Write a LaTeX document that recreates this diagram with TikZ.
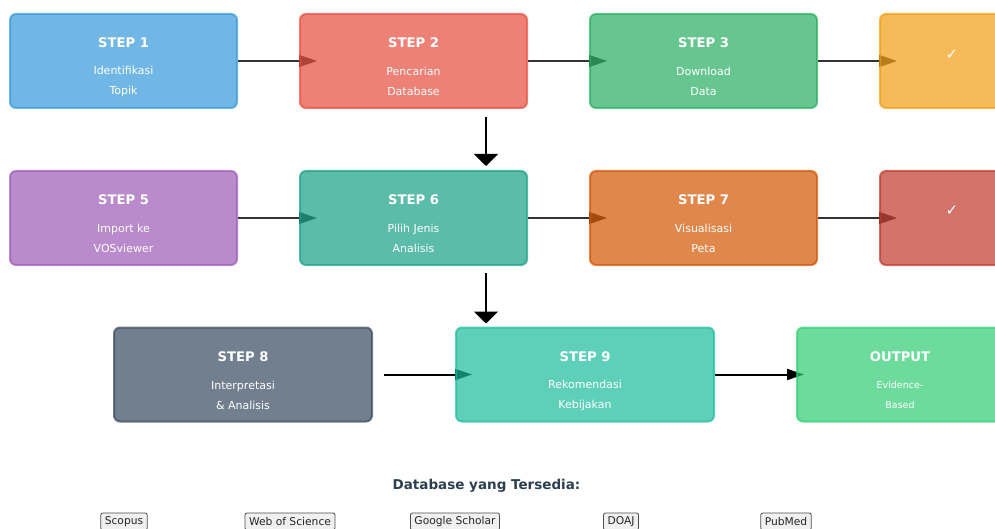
\documentclass[tikz,border=0pt]{standalone}
\usepackage{fontspec}
\setmainfont{DejaVu Sans}
\usetikzlibrary{arrows.meta,calc}
\pgfdeclarelayer{bg}
\pgfsetlayers{bg,main}

\definecolor{cblue}{HTML}{3498DB}
\definecolor{cred}{HTML}{E74C3C}
\definecolor{cgreen}{HTML}{27AE60}
\definecolor{corange}{HTML}{F39C12}
\definecolor{cpurple}{HTML}{9B59B6}
\definecolor{cteal}{HTML}{16A085}
\definecolor{cpumpkin}{HTML}{D35400}
\definecolor{cdarkred}{HTML}{C0392B}
\definecolor{cslate}{HTML}{34495E}
\definecolor{cturq}{HTML}{1ABC9C}
\definecolor{cemerald}{HTML}{2ECC71}
\definecolor{ctext}{HTML}{2C3E50}

\tikzset{
  stepbox/.style={draw=#1, fill=#1, opacity=0.7, line width=2pt, rounded corners=6pt,
    minimum width=227pt, minimum height=94pt, inner sep=0pt},
  widebox/.style={stepbox=#1, minimum width=258pt},
  steptitle/.style={text=white, inner sep=0pt, font=\fontsize{13.2}{15}\selectfont\bfseries},
  stepnote/.style={text=white, align=center, inner sep=0pt, font=\fontsize{11}{20}\selectfont},
  smallnote/.style={stepnote, font=\fontsize{9.5}{20}\selectfont},
  tick/.style={text=white, inner sep=0pt, font=\fontsize{15}{16}\selectfont},
  flow/.style={draw=black!80, line width=1.2pt, -{Triangle[length=18pt,width=12pt]}},
  flowbig/.style={draw=black, line width=2pt, -{Triangle[length=17pt,width=11pt]}},
  down/.style={draw=black, line width=2pt, -{Triangle[length=12pt,width=24pt]}},
  dbtag/.style={draw=black!70, fill=black!6, rounded corners=2pt, line width=0.8pt,
    inner xsep=4pt, inner ysep=2pt, minimum height=17pt, text=black!85,
    font=\fontsize{10.7}{12}\selectfont}
}

\begin{document}
\begin{tikzpicture}[x=1pt,y=-1pt]
\useasboundingbox (0,0) rectangle (995,529);
\clip (0,0) rectangle (995,529);

% row 1
\node[stepbox=cblue] (s1) at (123.5,61) {};
\node[stepbox=cred] (s2) at (413.5,61) {};
\node[stepbox=cgreen] (s3) at (703.5,61) {};
\node[stepbox=corange] (s4) at (993.5,61) {};
\node[steptitle] (t1) at ([yshift=18pt]s1.center) {STEP 1};
\node[stepnote] (n1) at ([yshift=-20pt]s1.center) {Identifikasi\\Topik};
\node[steptitle] (t2) at ([yshift=18pt]s2.center) {STEP 2};
\node[stepnote] (n2) at ([yshift=-20pt]s2.center) {Pencarian\\Database};
\node[steptitle] (t3) at ([yshift=18pt]s3.center) {STEP 3};
\node[stepnote] (n3) at ([yshift=-20pt]s3.center) {Download\\Data};
\node[tick] (k4) at ([xshift=-41.5pt,yshift=6.5pt]s4.center) {✓};

% row 2
\node[stepbox=cpurple] (s5) at (123.5,218) {};
\node[stepbox=cteal] (s6) at (413.5,218) {};
\node[stepbox=cpumpkin] (s7) at (703.5,218) {};
\node[stepbox=cdarkred] (s7b) at (993.5,218) {};
\node[steptitle] (t5) at ([yshift=18pt]s5.center) {STEP 5};
\node[stepnote] (n5) at ([yshift=-20pt]s5.center) {Import ke\\VOSviewer};
\node[steptitle] (t6) at ([yshift=18pt]s6.center) {STEP 6};
\node[stepnote] (n6) at ([yshift=-20pt]s6.center) {Pilih Jenis\\Analisis};
\node[steptitle] (t7) at ([yshift=18pt]s7.center) {STEP 7};
\node[stepnote] (n7) at ([yshift=-20pt]s7.center) {Visualisasi\\Peta};
\node[tick] (k7) at ([xshift=-41.5pt,yshift=7pt]s7b.center) {✓};

% row 3
\node[widebox=cslate] (s8) at (243,374.5) {};
\node[widebox=cturq] (s9) at (585,374.5) {};
\node[widebox=cemerald] (out) at (926,374.5) {};
\node[steptitle] (t8) at ([yshift=18pt]s8.center) {STEP 8};
\node[stepnote] (n8) at ([yshift=-20.5pt]s8.center) {Interpretasi\\\& Analisis};
\node[steptitle] (t9) at ([yshift=18pt]s9.center) {STEP 9};
\node[stepnote] (n9) at ([yshift=-20.5pt]s9.center) {Rekomendasi\\Kebijakan};
\node[steptitle] (to) at ([xshift=-26pt,yshift=18pt]out.center) {OUTPUT};
\node[smallnote] (no) at ([xshift=-26pt,yshift=-20.5pt]out.center) {Evidence-\\Based};

% connectors
\begin{pgfonlayer}{bg}
\draw[flow] (s1.east) -- ([xshift=18pt]s2.west);
\draw[flow] (s2.east) -- ([xshift=18pt]s3.west);
\draw[flow] (s3.east) -- ([xshift=18pt]s4.west);
\draw[flow] (s5.east) -- ([xshift=18pt]s6.west);
\draw[flow] (s6.east) -- ([xshift=18pt]s7.west);
\draw[flow] (s7.east) -- ([xshift=18pt]s7b.west);
\draw[down] ($(s2.south)+(72.5,8)$) -- ($(s6.north)+(72.5,-4)$);
\draw[down] ($(s6.south)+(72.5,7)$) -- ($(s9.north)+(-99,-3)$);
\draw[flowbig] ([xshift=11pt]s8.east) -- ([xshift=17pt]s9.west);
\draw[flowbig] (s9.east) -- ([xshift=8pt]out.west);
\end{pgfonlayer}

% databases
\node[text=ctext, font=\fontsize{13.5}{15}\selectfont\bfseries] (dbt) at (486.5,486) {Database yang Tersedia:};
\node[dbtag] (db1) at (124,521.5) {Scopus};
\node[dbtag] (db2) at (290,521.5) {Web of Science};
\node[dbtag] (db3) at (455,521.5) {Google Scholar};
\node[dbtag] (db4) at (621,521.5) {DOAJ};
\node[dbtag] (db5) at (786,521.5) {PubMed};
\end{tikzpicture}
\end{document}
